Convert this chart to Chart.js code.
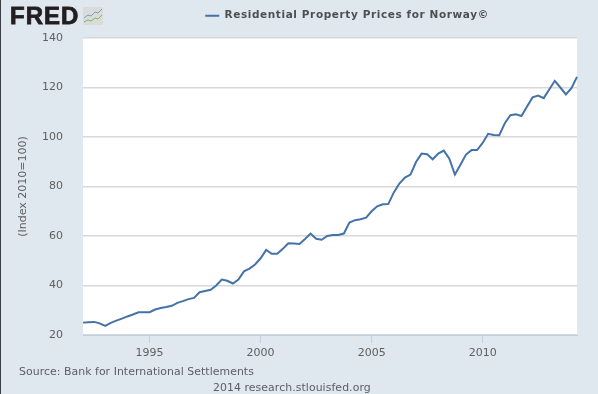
<!DOCTYPE html>
<html>
<head>
<meta charset="utf-8">
<script src="https://cdn.jsdelivr.net/npm/chart.js@4"></script>
<style>
html,body{margin:0;padding:0;background:#dfe7ef;overflow:hidden}
#wrap{position:relative;width:598px;height:394px;background:#dfe7ef;overflow:hidden}
#edge{position:absolute;left:0;top:0;width:1px;height:394px;background:#3a3f44}
canvas#c{position:absolute;left:0;top:0}
.t{position:absolute;font-family:"DejaVu Sans",sans-serif;color:#5a5f63;white-space:nowrap}
#logo{left:10px;top:1px;font:900 24px/30px "Liberation Sans",Arial,sans-serif;color:#231f20;-webkit-text-stroke:0.8px #231f20;letter-spacing:1px}
#src{left:19px;top:365px;font-size:10.9px;line-height:14px;letter-spacing:.05px}
#cred{left:213px;top:381px;font-size:10.9px;line-height:14px;letter-spacing:.07px}
#ico{position:absolute;left:83px;top:7px}
</style>
</head>
<body>
<div id="wrap">
<canvas id="c" width="598" height="394"></canvas>
<div id="edge"></div>
<div class="t" id="logo">FRED</div>
<svg id="ico" width="20" height="18" viewBox="0 0 20 18">
<rect width="20" height="18" rx="1" fill="#d9dcd9"/>
<polyline points="1,11 5,8 8,9 12,5 15,6 19,2" fill="none" stroke="#7f9fbf" stroke-width="1"/>
<polyline points="1,15 5,13 8,14 12,11 15,12 19,8" fill="none" stroke="#8fae6a" stroke-width="1"/>
</svg>
<div class="t" id="src">Source: Bank for International Settlements</div>
<div class="t" id="cred">2014 research.stlouisfed.org</div>
</div>
<script>
const seriesName = "Residential Property Prices for Norway©";
const yAxisTitle = "(Index 2010=100)";
const yTicks = [20, 40, 60, 80, 100, 120, 140];
const xTickYears = ["1995", "2000", "2005", "2010"];
const firstYear = 1992;
const values = [
  25.0, 25.2, 25.3, 24.7, 23.7, 24.9, 25.8, 26.6, 27.5, 28.3,
  29.2, 29.2, 29.2, 30.3, 30.9, 31.3, 31.8, 33.0, 33.7, 34.5,
  35.0, 37.3, 37.8, 38.3, 40.0, 42.4, 41.9, 40.8, 42.4, 45.7,
  46.8, 48.5, 51.0, 54.4, 52.8, 52.8, 54.8, 57.1, 57.0, 56.8,
  58.8, 61.0, 58.9, 58.5, 60.0, 60.4, 60.4, 61.0, 65.4, 66.4,
  66.8, 67.4, 70.0, 72.0, 72.8, 72.9, 77.6, 81.2, 83.6, 84.8,
  89.9, 93.3, 93.0, 91.0, 93.3, 94.5, 91.2, 84.8, 88.8, 92.9,
  94.7, 94.7, 97.6, 101.3, 100.8, 100.7, 105.6, 108.8, 109.2, 108.5,
  112.3, 116.0, 116.7, 115.7, 119.2, 122.7, 120.0, 117.2, 119.7, 124.3
];
const quarters = values.map((_, i) => (firstYear + Math.floor(i / 4)) + "-Q" + (i % 4 + 1));

const plotBg = {
  id: "plotBg",
  beforeDraw(chart) {
    const a = chart.chartArea, g = chart.ctx;
    g.save();
    g.fillStyle = "#ffffff";
    g.fillRect(a.left, a.top, a.right - a.left, a.bottom - a.top);
    g.restore();
  }
};

// The reference legend is letter-spaced, sits right of centre and leaves extra room beneath it.
const legendTweak = {
  id: "legendTweak",
  beforeLayout(chart) {
    const lg = chart.legend;
    if (!lg || lg._tweaked) return;
    lg._tweaked = true;
    const fit = lg.fit, draw = lg.draw;
    lg.fit = function () {
      chart.ctx.save();
      chart.ctx.letterSpacing = "0.6px";
      fit.call(this);
      chart.ctx.restore();
      this.height += 7.5;
    };
    lg.draw = function () {
      chart.ctx.save();
      chart.ctx.letterSpacing = "0.6px";
      chart.ctx.translate(50, 0.5);
      draw.call(this);
      chart.ctx.restore();
    };
  }
};

new Chart(document.getElementById("c"), {
  type: "line",
  data: {
    labels: quarters,
    datasets: [{
      label: seriesName,
      data: values,
      borderColor: "#4572a7",
      backgroundColor: "#4572a7",
      borderWidth: 2,
      pointRadius: 0,
      tension: 0,
      clip: false
    }]
  },
  plugins: [plotBg, legendTweak],
  options: {
    responsive: false,
    animation: false,
    layout: { padding: { left: 17, right: 21, top: 0, bottom: 0 } },
    plugins: {
      tooltip: { enabled: false },
      legend: {
        display: true,
        position: "top",
        align: "center",
        labels: {
          boxWidth: 14, boxHeight: 0, padding: 10,
          color: "#4d4f52",
          font: { family: "DejaVu Sans", weight: "bold", size: 10.5 }
        }
      }
    },
    scales: {
      x: {
        type: "category",
        offset: false,
        afterBuildTicks(axis) {
          axis.ticks = axis.ticks.filter(t => {
            const l = quarters[t.value];
            return l.endsWith("Q1") && xTickYears.includes(l.slice(0, 4));
          });
        },
        afterFit(axis) { axis.height = 59; },
        ticks: {
          autoSkip: false, maxRotation: 0, padding: 4,
          color: "#606060",
          font: { family: "DejaVu Sans", size: 11 },
          callback(v) { return quarters[v].slice(0, 4); }
        },
        grid: { drawOnChartArea: false, drawTicks: true, tickLength: 8, tickColor: "#c0d0e0", tickWidth: 1 },
        border: { color: "#c0d0e0", width: 1 }
      },
      y: {
        min: 20, max: 140,
        afterBuildTicks(axis) { axis.ticks = yTicks.map(v => ({ value: v })); },
        afterFit(axis) { axis.width = 66; },
        ticks: {
          padding: 20, color: "#606060",
          font: { family: "DejaVu Sans", size: 11 }
        },
        grid: { color: "#d8d8d8", lineWidth: 1.4, drawTicks: false },
        border: { display: false },
        title: {
          display: true, text: yAxisTitle, color: "#606060",
          font: { family: "DejaVu Sans", size: 11 },
          padding: { top: 0, bottom: 0 }
        }
      }
    }
  }
});
</script>
</body>
</html>
